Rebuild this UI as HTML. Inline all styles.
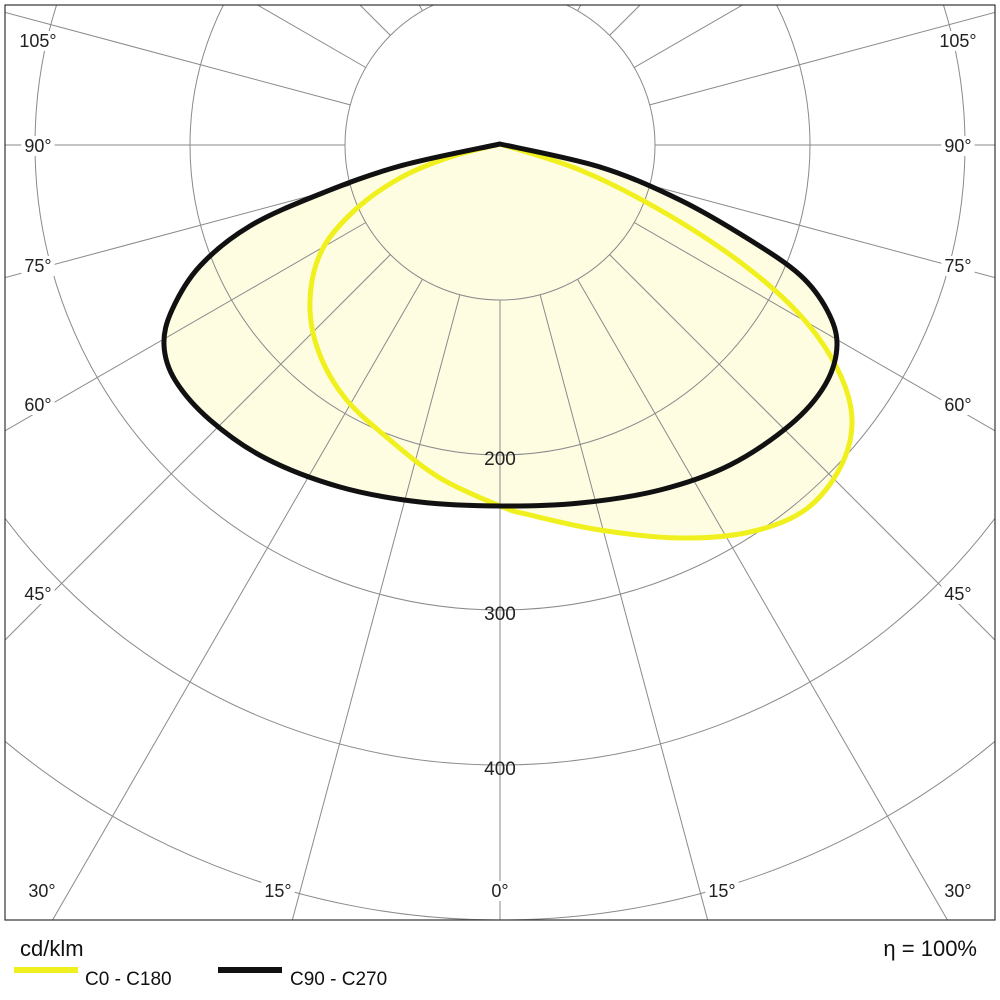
<!DOCTYPE html>
<html><head><meta charset="utf-8"><style>
html,body{margin:0;padding:0;background:#fff;overflow:hidden;}
svg{display:block;font-family:"Liberation Sans",sans-serif;}
</style></head><body>
<svg id="s" width="1000" height="1000" viewBox="0 0 1000 1000">
<defs><clipPath id="c"><rect x="5" y="5" width="990" height="915"/></clipPath></defs>
<g clip-path="url(#c)">
<path id="fy" fill="#fefde2" stroke="none"/>
<path id="fb" fill="#fefde2" stroke="none"/>
<g id="grid" stroke="#8a8a8a" stroke-width="1" fill="none"></g>
</g>
<rect x="5" y="5" width="990" height="915" fill="none" stroke="#333" stroke-width="1.2"/>
<g id="labels" font-size="18" fill="#222"></g>
<g clip-path="url(#c)">
<path id="sy" fill="none" stroke="#f0f01e" stroke-width="5" stroke-linejoin="round"/>
<path id="sb" fill="none" stroke="#111" stroke-width="5" stroke-linejoin="round"/>
</g>
<text x="20" y="956" font-size="22" fill="#111">cd/klm</text>
<text x="977" y="956" font-size="22" fill="#111" text-anchor="end">η = 100%</text>
<rect x="14" y="967" width="64" height="6" fill="#f0f01e"/>
<text x="85" y="985" font-size="19" fill="#111">C0 - C180</text>
<rect x="218" y="967" width="64" height="6" fill="#111"/>
<text x="290" y="985" font-size="19" fill="#111">C90 - C270</text>
</svg>
<script>
var NS="http://www.w3.org/2000/svg",cx=500,cy=145;
var g=document.getElementById("grid"),L=document.getElementById("labels");
function el(t,a,p){var e=document.createElementNS(NS,t);for(var k in a)e.setAttribute(k,a[k]);p.appendChild(e);return e;}
[155,310,465,620,775].forEach(function(r){el("circle",{cx:cx,cy:cy,r:r},g);});
for(var a=0;a<360;a+=15){var t=a*Math.PI/180,dx=Math.sin(t),dy=Math.cos(t);
el("line",{x1:cx+dx*155,y1:cy+dy*155,x2:cx+dx*1400,y2:cy+dy*1400},g);}
function lab(x,y,s){var e=el("text",{x:x,y:y,"text-anchor":"middle"},L);e.textContent=s;
var b=e.getBBox();var r=document.createElementNS(NS,"rect");r.setAttribute("x",b.x-3);r.setAttribute("y",b.y);r.setAttribute("width",b.width+6);r.setAttribute("height",b.height);r.setAttribute("fill","#fff");L.insertBefore(r,e);}
[["105°",40],["90°",145],["75°",265],["60°",404],["45°",593]].forEach(function(s){lab(38,s[1]+7,s[0]);lab(958,s[1]+7,s[0]);});
[["30°",42],["15°",278],["0°",500],["15°",722],["30°",958]].forEach(function(s){lab(s[1],897,s[0]);});
[["200",458],["300",613],["400",768]].forEach(function(s){var e=el("text",{x:500,y:s[1]+7,"text-anchor":"middle","font-size":"19"},L);e.textContent=s[0];});
function cr(p){p=[p[0]].concat(p).concat([p[p.length-1]]);var d="M"+p[1][0]+","+p[1][1];
for(var i=1;i<p.length-2;i++){var p0=p[i-1],p1=p[i],p2=p[i+1],p3=p[i+2];
d+=" C"+(p1[0]+(p2[0]-p0[0])/6)+","+(p1[1]+(p2[1]-p0[1])/6)+" "+(p2[0]-(p3[0]-p1[0])/6)+","+(p2[1]-(p3[1]-p1[1])/6)+" "+p2[0]+","+p2[1];}
return d+"Z";}
var B=[[500,144],[600,167],[680,200],[750,240],[800,275],[827,310],[837,345],[825,385],[790,425],[730,465],[660,490],[580,503],[500,506],[420,502],[340,487],[265,458],[210,420],[175,380],[164,345],[172,310],[200,266],[250,226],[320,194],[400,166],[500,144]];
var Y=[[500,144],[580,170],[660,210],[740,262],[800,315],[838,370],[852,420],[840,468],[805,510],[750,532],[680,538],[600,530],[530,515],[500,506],[440,478],[390,440],[345,398],[318,350],[310,300],[322,250],[355,210],[400,178],[450,157],[500,144]];
var db=cr(B),dy2=cr(Y);
["fb","sb"].forEach(function(i){document.getElementById(i).setAttribute("d",db);});
["fy","sy"].forEach(function(i){document.getElementById(i).setAttribute("d",dy2);});
</script>
</body></html>
